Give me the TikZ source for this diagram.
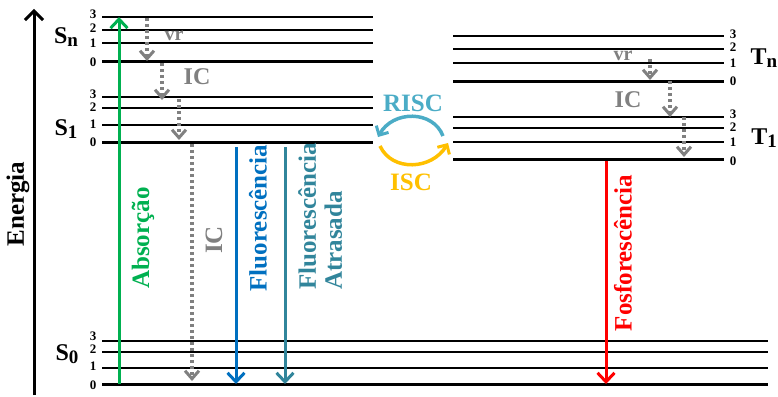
\documentclass[tikz,border=0pt]{standalone}
\usepackage{fontspec}
\setmainfont{Liberation Serif}
\usetikzlibrary{arrows.meta}
\definecolor{absgreen}{RGB}{0,176,80}
\definecolor{fluoblue}{RGB}{0,112,192}
\definecolor{tadfteal}{RGB}{49,133,155}
\definecolor{risccol}{RGB}{75,172,198}
\definecolor{isccol}{RGB}{255,192,0}
\definecolor{icgray}{RGB}{128,128,128}
\definecolor{phosred}{RGB}{255,0,0}
\newcommand{\stlab}[2]{#1\raisebox{-0.3ex}{\fontsize{19}{19}\selectfont #2}}
\begin{document}
\begin{tikzpicture}[x=1pt,y=-1pt,
  lvA/.style={line width=1.6pt},
  lvB/.style={line width=2.3pt},
  lvC/.style={line width=3pt},
  num/.style={font=\fontsize{13}{13}\selectfont\bfseries, inner sep=0pt},
  state/.style={font=\fontsize{24}{24}\selectfont\bfseries, inner sep=0pt},
  colarrow/.style={line width=3pt, -{Straight Barb[length=9pt,width=17pt,line width=3pt]}},
  icarrow/.style={icgray, line width=3.2pt, dash pattern=on 3pt off 3pt, -{Straight Barb[length=8pt,width=14pt,line width=3pt]}},
  rotlabel/.style={rotate=90, font=\fontsize{25}{26}\selectfont\bfseries, inner sep=0pt},
  smalllabel/.style={font=\fontsize{24}{24}\selectfont\bfseries, icgray, inner sep=0pt},
  vrlabel/.style={font=\fontsize{20}{20}\selectfont\bfseries, icgray, inner sep=0pt},
  isclabel/.style={font=\fontsize{25}{25}\selectfont\bfseries, inner sep=0pt}
]
\useasboundingbox (0,0) rectangle (778,396);

% ---- S_n levels
\draw[lvA] (102,17) -- (373,17);
\draw[lvA] (102,30) -- (373,30);
\draw[lvB] (102,43) -- (373,43);
\draw[lvC] (102,61) -- (373,61);
% ---- S_1 levels
\draw[lvA] (102,97) -- (373,97);
\draw[lvA] (102,108) -- (373,108);
\draw[lvB] (102,125) -- (373,125);
\draw[lvC] (102,142) -- (373,142);
% ---- S_0 levels
\draw[lvA] (102,341) -- (768,341);
\draw[lvA] (102,352) -- (768,352);
\draw[lvB] (102,368) -- (768,368);
\draw[lvC] (102,384) -- (768,384);
% ---- T_n levels
\draw[lvA] (453,36) -- (724,36);
\draw[lvA] (453,49) -- (724,49);
\draw[lvB] (453,63) -- (724,63);
\draw[lvC] (453,81) -- (724,81);
% ---- T_1 levels
\draw[lvA] (453,117) -- (724,117);
\draw[lvA] (453,128) -- (724,128);
\draw[lvB] (453,142) -- (724,142);
\draw[lvC] (453,159) -- (724,159);

% ---- level numbers
\node[num] (sn3) at (93,14) {3};
\node[num] (sn2) at (93,28) {2};
\node[num] (sn1) at (93,43) {1};
\node[num] (sn0) at (93,62) {0};
\node[num] (s13) at (93,94) {3};
\node[num] (s12) at (93,107) {2};
\node[num] (s11) at (93,124) {1};
\node[num] (s10) at (93,142) {0};
\node[num] (s03) at (93,336) {3};
\node[num] (s02) at (93,349) {2};
\node[num] (s01) at (93,366) {1};
\node[num] (s00) at (93,385) {0};
\node[num] (tn3) at (733,34) {3};
\node[num] (tn2) at (733,47) {2};
\node[num] (tn1) at (733,63) {1};
\node[num] (tn0) at (733,81) {0};
\node[num] (t13) at (733,114) {3};
\node[num] (t12) at (733,127) {2};
\node[num] (t11) at (733,142) {1};
\node[num] (t10) at (733,161) {0};

% ---- state labels
\node[state] (Sn) at (66,37) {\stlab{S}{n}};
\node[state] (S1) at (66,129) {\stlab{S}{1}};
\node[state] (S0) at (67,354) {\stlab{S}{0}};
\node[state] (Tn) at (764,58) {\stlab{T}{n}};
\node[state] (T1) at (764,138) {\stlab{T}{1}};

% ---- energy axis
\coordinate (ebot) at (34,395);
\coordinate (etop) at (34,9);
\draw[line width=3pt, -{Straight Barb[length=9pt,width=18pt,line width=3pt]}] (ebot) -- (etop);
\node[rotlabel, font=\fontsize{25}{25}\selectfont\bfseries] (energia) at (18,204) {Energia};

% ---- absorption
\coordinate (absb) at (119,384);
\coordinate (abst) at (119,17);
\draw[absgreen, colarrow] (absb) -- (abst);
\node[rotlabel, absgreen] (abslab) at (143,238) {Absorção};

% ---- internal conversion / vibrational relaxation (singlets)
\coordinate (vr1a) at (147,18);
\coordinate (vr1b) at (147,61);
\coordinate (ic1a) at (162,63);
\coordinate (ic1b) at (162,100);
\coordinate (vr2a) at (179,99);
\coordinate (vr2b) at (179,140);
\coordinate (ic2a) at (192,144);
\coordinate (ic2b) at (192,381);
\draw[icarrow] (vr1a) -- (vr1b);
\draw[icarrow] (ic1a) -- (ic1b);
\draw[icarrow] (vr2a) -- (vr2b);
\draw[icarrow] (ic2a) -- (ic2b);
\node[vrlabel] (vrS) at (174,36) {vr};
\node[smalllabel] (icS) at (197,77) {IC};
\node[rotlabel, icgray] (icLong) at (214,240) {IC};

% ---- fluorescence
\coordinate (flt) at (236,147);
\coordinate (flb) at (236,384);
\draw[fluoblue, colarrow] (flt) -- (flb);
\node[rotlabel, fluoblue] (fllab) at (258,218) {Fluorescência};

% ---- delayed fluorescence
\coordinate (dft) at (285,147);
\coordinate (dfb) at (285,384);
\draw[tadfteal, colarrow] (dft) -- (dfb);
\node[rotlabel, tadfteal, align=left, anchor=north west] (dflab) at (298,290) {Fluorescência\\Atrasada};

% ---- triplet relaxation
\coordinate (vr3a) at (650,59);
\coordinate (vr3b) at (650,80);
\coordinate (ic3a) at (670,81);
\coordinate (ic3b) at (670,117);
\coordinate (vr4a) at (684,117);
\coordinate (vr4b) at (684,157);
\draw[icarrow] (vr3a) -- (vr3b);
\draw[icarrow] (ic3a) -- (ic3b);
\draw[icarrow] (vr4a) -- (vr4b);
\node[vrlabel] (vrT) at (623,56) {vr};
\node[smalllabel] (icT) at (628,100) {IC};

% ---- phosphorescence
\coordinate (pht) at (606,161);
\coordinate (phb) at (606,384);
\draw[phosred, colarrow] (pht) -- (phb);
\node[rotlabel, phosred] (phlab) at (623,253) {Fosforescência};

% ---- RISC / ISC
\coordinate (riscA) at (443,136);
\coordinate (riscB) at (378,137);
\coordinate (iscA) at (380,146);
\coordinate (iscB) at (448,143);
\draw[risccol, line width=3.5pt, -{Straight Barb[length=7pt,width=14pt,line width=3pt]}]
  (riscA) .. controls (433,110) and (393,110) .. (riscB);
\draw[isccol, line width=3.5pt, -{Straight Barb[length=7pt,width=14pt,line width=3pt]}]
  (iscA) .. controls (392,172) and (432,170) .. (iscB);
\node[isclabel, risccol] (risclab) at (413,103) {RISC};
\node[isclabel, isccol] (isclab) at (411,182) {ISC};
\end{tikzpicture}
\end{document}
